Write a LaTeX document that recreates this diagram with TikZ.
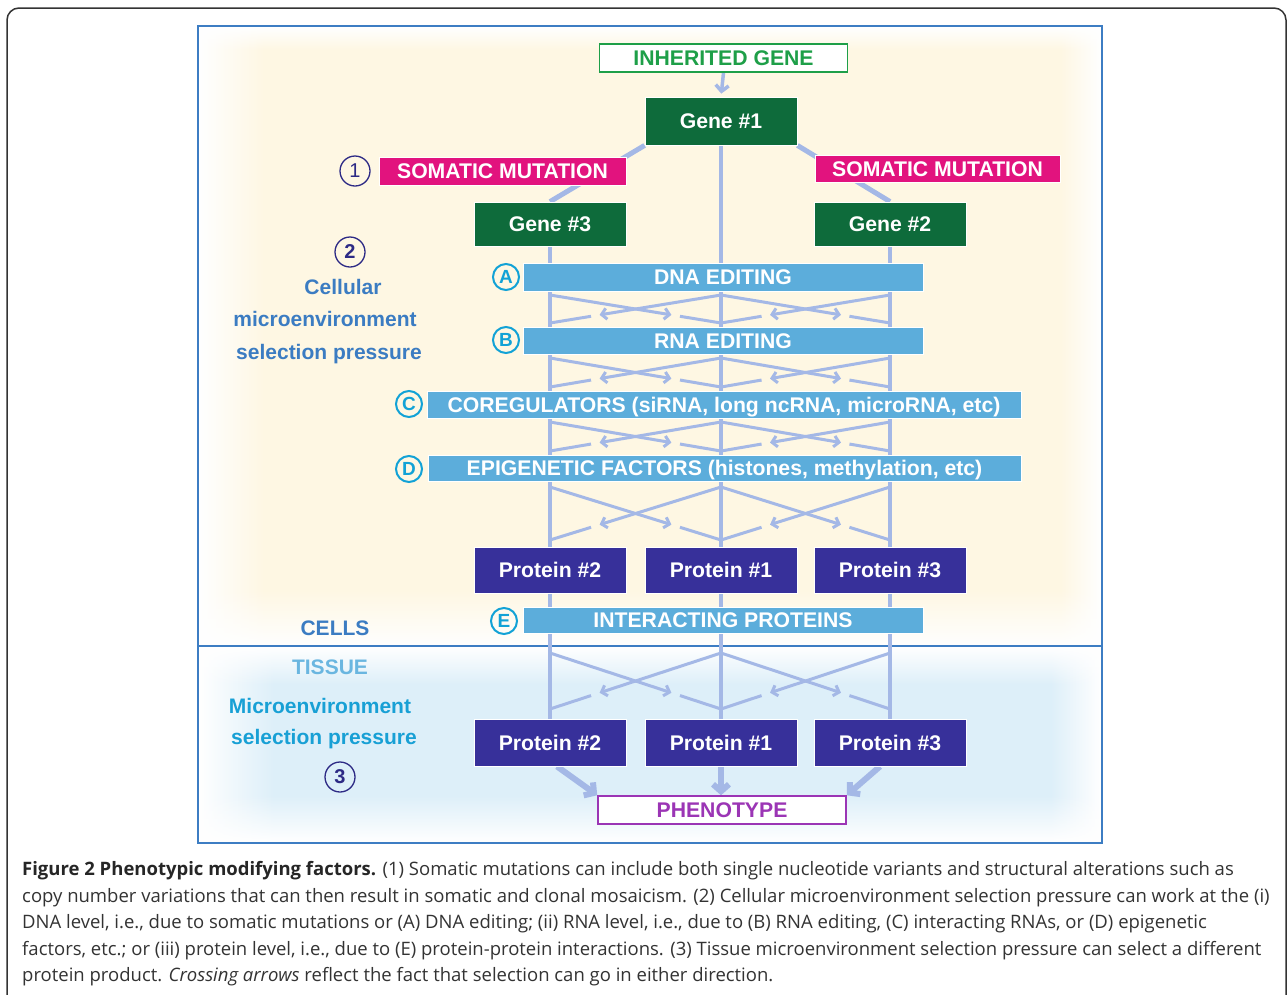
\documentclass[tikz,border=0pt]{standalone}
\usepackage{fontspec}
\setmainfont{Liberation Sans}
\newfontfamily\capfont{Open Sans}
\usetikzlibrary{arrows.meta,positioning,calc,fadings}
\definecolor{gdark}{HTML}{0E6B3B}
\definecolor{ggreen}{HTML}{1E9F48}
\definecolor{mag}{HTML}{E2137E}
\definecolor{barblue}{HTML}{5CADDB}
\definecolor{lin}{HTML}{A4B8E6}
\definecolor{indg}{HTML}{37309A}
\definecolor{purp}{HTML}{9B35B5}
\definecolor{numc}{HTML}{2D2A85}
\definecolor{letc}{HTML}{12A2D6}
\definecolor{cellblue}{HTML}{3B7CC2}
\definecolor{tissue}{HTML}{6AB6E0}
\definecolor{micro}{HTML}{18A0D5}
\definecolor{frameb}{HTML}{3D7DC3}
\definecolor{cream}{HTML}{FEF7E3}
\definecolor{lblue}{HTML}{DDEFF9}
\definecolor{capt}{HTML}{333333}
\pgfdeclarelayer{bg}
\pgfdeclarelayer{lines}
\pgfsetlayers{bg,lines,main}
\tikzset{
  box/.style={draw=white,line width=0.8pt,inner sep=0pt,text height=15pt,text depth=0pt,font=\bfseries\fontsize{21.2}{25}\selectfont,text=white},
  gbox/.style={box,fill=gdark,minimum width=152pt,minimum height=46pt},
  mbox/.style={box,fill=mag,minimum height=28pt},
  bbox/.style={box,fill=barblue,minimum height=27pt},
  pbox/.style={box,fill=indg,minimum width=152pt,minimum height=46pt},
  obox/.style={box,fill=white,line width=1.5pt,minimum width=248pt,minimum height=28pt},
  ncirc/.style={circle,draw=numc,line width=1.3pt,minimum size=30pt,inner sep=0pt,text=numc,font=\fontsize{20}{24}\selectfont},
  lcirc/.style={circle,draw=letc,line width=2pt,minimum size=26pt,inner sep=0pt,text=letc,font=\bfseries\fontsize{19}{22}\selectfont},
  lab/.style={font=\bfseries\fontsize{21}{25}\selectfont,inner sep=0pt,text height=15pt,text depth=4pt},
  post/.style={draw=lin,line width=4pt},
  xln/.style={draw=lin,line width=3pt},
  xarr/.style={xln,-{Straight Barb[length=5pt,width=11pt]}},
  thk/.style={draw=lin,line width=5pt},
  bigarr/.style={draw=lin,line width=6pt,-{Straight Barb[length=7pt,width=16pt]}},
  captxt/.style={anchor=base west,inner sep=0pt,text=capt,font=\capfont\fontsize{18.5}{22}\selectfont},
}
% crossing arrows between the three posts
\newcommand{\xcross}[2]{%
  \coordinate (xtl) at (550,#1); \coordinate (xtc) at (721,#1); \coordinate (xtr) at (890,#1);
  \coordinate (xbl) at (550,#2); \coordinate (xbc) at (721,#2); \coordinate (xbr) at (890,#2);
  \draw[xarr] (xtl) -- ($(xtl)!0.71!(xbc)$); \draw[xln] ($(xtl)!0.76!(xbc)$) -- (xbc);
  \draw[xarr] (xtc) -- ($(xtc)!0.71!(xbl)$); \draw[xln] ($(xtc)!0.76!(xbl)$) -- (xbl);
  \draw[xarr] (xtc) -- ($(xtc)!0.71!(xbr)$); \draw[xln] ($(xtc)!0.76!(xbr)$) -- (xbr);
  \draw[xarr] (xtr) -- ($(xtr)!0.71!(xbc)$); \draw[xln] ($(xtr)!0.76!(xbc)$) -- (xbc);
}
\begin{document}
\begin{tikzpicture}[x=1pt,y=-1pt]
\clip (0,0) rectangle (1287,994);
% backgrounds
\begin{pgfonlayer}{bg}
\fill[white] (0,0) rectangle (1287,994);
\fill[cream] (198,26) rectangle (1102,646);
\fill[lblue] (198,646) rectangle (1102,843);
\fill[white,path fading=east] (199,27) rectangle (265,645);
\fill[white,path fading=west] (1060,27) rectangle (1101,645);
\fill[white,path fading=north] (199,590) rectangle (1101,646);
\fill[white,path fading=south] (199,27) rectangle (1101,50);
\fill[white,path fading=east] (199,647) rectangle (275,842);
\fill[white,path fading=west] (1050,647) rectangle (1101,842);
\fill[white,path fading=south] (199,647) rectangle (1101,685);
\fill[white,path fading=north] (199,795) rectangle (1101,842);
\draw[black!80,line width=1.5pt,rounded corners=12pt] (7,1010) -- (7,8) -- (1286,8) -- (1286,1010);
\draw[frameb,line width=2.5pt] (198,26) rectangle (1102,843);
\draw[frameb,line width=2.5pt] (198,646) -- (1102,646);
\end{pgfonlayer}

% nodes
\node[obox,draw=ggreen,text=ggreen] (inh) at (723.5,58) {INHERITED GENE};
\node[gbox,minimum height=48pt] (g1) at (721,121) {Gene \#1};
\node[mbox,minimum width=247pt] (sm1) at (502.5,171) {SOMATIC MUTATION};
\node[mbox,minimum width=245pt,minimum height=27pt] (sm2) at (937.5,168.5) {SOMATIC MUTATION};
\node[gbox,minimum height=44pt] (g3) at (550,224) {Gene \#3};
\node[gbox,minimum height=44pt] (g2) at (890,224) {Gene \#2};
\node[bbox,minimum width=400pt,minimum height=28pt] (dna) at (723,277) {DNA EDITING};
\node[bbox,minimum width=400pt] (rna) at (723,340.5) {RNA EDITING};
\node[bbox,minimum width=594pt] (coreg) at (724,404.5) {COREGULATORS (siRNA, long ncRNA, microRNA, etc)};
\node[bbox,minimum width=593pt,minimum height=26pt] (epi) at (724.5,468) {EPIGENETIC FACTORS (histones, methylation, etc)};
\node[pbox] (p2a) at (550,570) {Protein \#2};
\node[pbox] (p1a) at (721,570) {Protein \#1};
\node[pbox] (p3a) at (890,570) {Protein \#3};
\node[bbox,minimum width=400pt,minimum height=26pt] (intp) at (723,620) {INTERACTING PROTEINS};
\node[pbox,minimum height=47pt] (p2b) at (550,742.5) {Protein \#2};
\node[pbox,minimum height=47pt] (p1b) at (721,742.5) {Protein \#1};
\node[pbox,minimum height=47pt] (p3b) at (890,742.5) {Protein \#3};
\node[obox,draw=purp,text=purp] (phen) at (722,810) {PHENOTYPE};

% connectors, behind the boxes
\begin{pgfonlayer}{lines}
\draw[thk] (g1.south west) -- (g3.north); \draw[thk] (g1.south east) -- (g2.north);
\draw[post] (g1.south) -- (p1b.north);
\draw[post] (g3.south) -- (p2b.north);
\draw[post] (g2.south) -- (p3b.north);
\xcross{295}{323}
\xcross{358}{387}
\xcross{422}{451}
\xcross{487}{540}
\xcross{653}{709}
\draw[-{Straight Barb[length=6pt,width=13pt]},draw=lin,line width=3.5pt,shorten >=3pt] (inh.south) -- (g1.north);
\draw[bigarr] ([xshift=7pt]p2b.south) -- (phen.north west);
\draw[bigarr] (p1b.south) -- (p1b.south |- phen.north);
\draw[bigarr] ([xshift=-10pt]p3b.south) -- (phen.north east);
\end{pgfonlayer}

% circled labels
\node[ncirc] (n1) at (355,171) {1};
\node[ncirc] (n2) at (350,252) {\textbf{2}};
\node[ncirc] (n3) at (340,777) {\textbf{3}};
\node[lcirc] (la) at (506,277) {A};
\node[lcirc] (lb) at (506,340) {B};
\node[lcirc] (lc) at (409,404) {C};
\node[lcirc] (ld) at (409,469) {D};
\node[lcirc] (le) at (504,621) {E};

% side texts
\node[lab,text=cellblue] (cel1) at (343,289) {Cellular};
\node[lab,text=cellblue] (cel2) at (325,321) {microenvironment};
\node[lab,text=cellblue] (cel3) at (329,354) {selection pressure};
\node[lab,text=cellblue] (cells) at (335,630) {CELLS};
\node[lab,text=tissue] (tiss) at (330,669) {TISSUE};
\node[lab,text=micro] (mic1) at (320,708) {Microenvironment};
\node[lab,text=micro] (mic2) at (324,739) {selection pressure};

% caption
\node[captxt] (cap1) at (22,875) {\textbf{\color{black!85}Figure 2 Phenotypic modifying factors.} (1) Somatic mutations can include both single nucleotide variants and structural alterations such as};
\node[captxt] (cap2) at (22,902) {copy number variations that can then result in somatic and clonal mosaicism. (2) Cellular microenvironment selection pressure can work at the (i)};
\node[captxt] (cap3) at (22,928) {DNA level, i.e., due to somatic mutations or (A) DNA editing; (ii) RNA level, i.e., due to (B) RNA editing, (C) interacting RNAs, or (D) epigenetic};
\node[captxt] (cap4) at (22,955) {factors, etc.; or (iii) protein level, i.e., due to (E) protein-protein interactions. (3) Tissue microenvironment selection pressure can select a different};
\node[captxt] (cap5) at (22,981) {protein product. \textit{Crossing arrows} reflect the fact that selection can go in either direction.};
\end{tikzpicture}
\end{document}
